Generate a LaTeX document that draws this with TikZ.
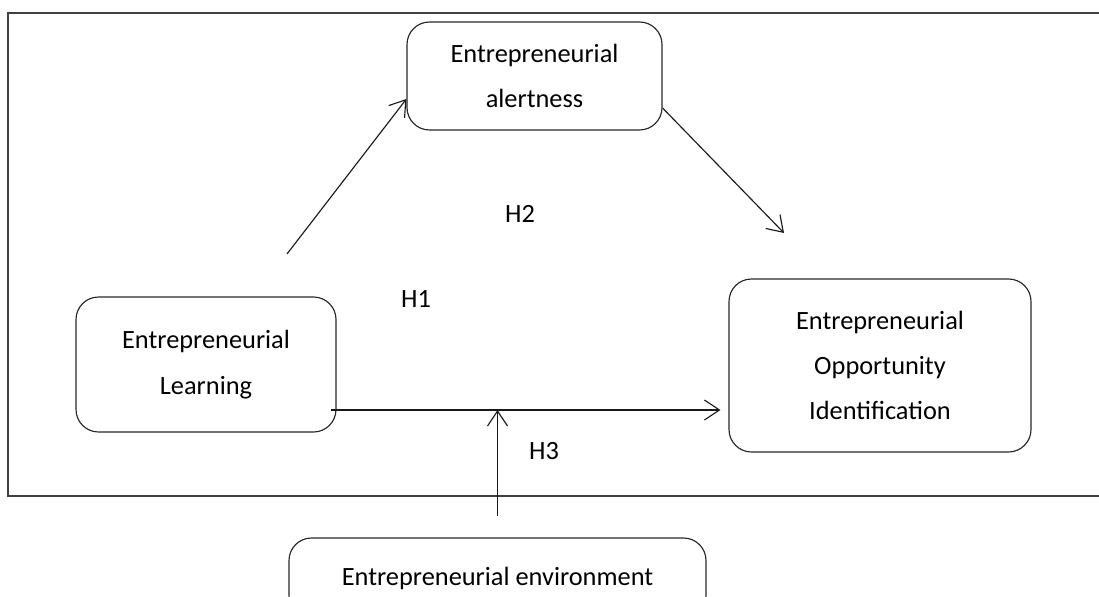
\documentclass[tikz,border=0pt]{standalone}
\usepackage{fontspec}
\setmainfont{Carlito}
\usetikzlibrary{arrows.meta, positioning}

\begin{document}
\begin{tikzpicture}[line width=0.65pt,
        every node/.style={font=\fontsize{15}{25.8}\selectfont},
        varbox/.style={draw=black!85, rounded corners=0.45cm, align=center},
        link/.style={-{Straight Barb[length=0.3cm, width=0.4cm]}, black!90}]
      \useasboundingbox (0,0) rectangle (21.98,11.92);
      % outer frame (runs off the right edge)
      \draw[black!75, line width=0.9pt] (22.5,11.66) -- (0.16,11.66) -- (0.16,2.0) -- (22.5,2.0);
      \node[varbox, minimum width=5.1cm, minimum height=2.16cm]
            (alert) at (10.69,10.4) {Entrepreneurial\\alertness};
      \node[varbox, minimum width=5.2cm, minimum height=2.7cm]
            (learn) at (4.12,4.63) {Entrepreneurial\\Learning};
      \node[varbox, minimum width=6.04cm, minimum height=3.46cm]
            (eoi) at (17.6,4.61) {Entrepreneurial\\Opportunity\\Identification};
      \node[varbox, minimum width=8.34cm, minimum height=1.6cm]
            (env) at (9.95,0.36) {Entrepreneurial environment};
      \coordinate (a1) at (5.74,6.84);
      \coordinate (a2) at (15.68,7.26);
      \draw[link] (a1) -- (alert.west |- 0,9.94);
      \draw[link] (alert.east |- 0,9.76) -- (a2);
      \draw[link, shorten >=0.16cm] ([xshift=-0.12cm]learn.east |- 0,3.72) -- (eoi.west |- 0,3.72);
      \draw[link] ([yshift=0.42cm]env.north) -- (env.north |- 0,3.72);
      \node (h1) at (8.32,5.94) {H1};
      \node (h2) at (10.4,7.64) {H2};
      \node (h3) at (10.88,2.9) {H3};
    \end{tikzpicture}
\end{document}
